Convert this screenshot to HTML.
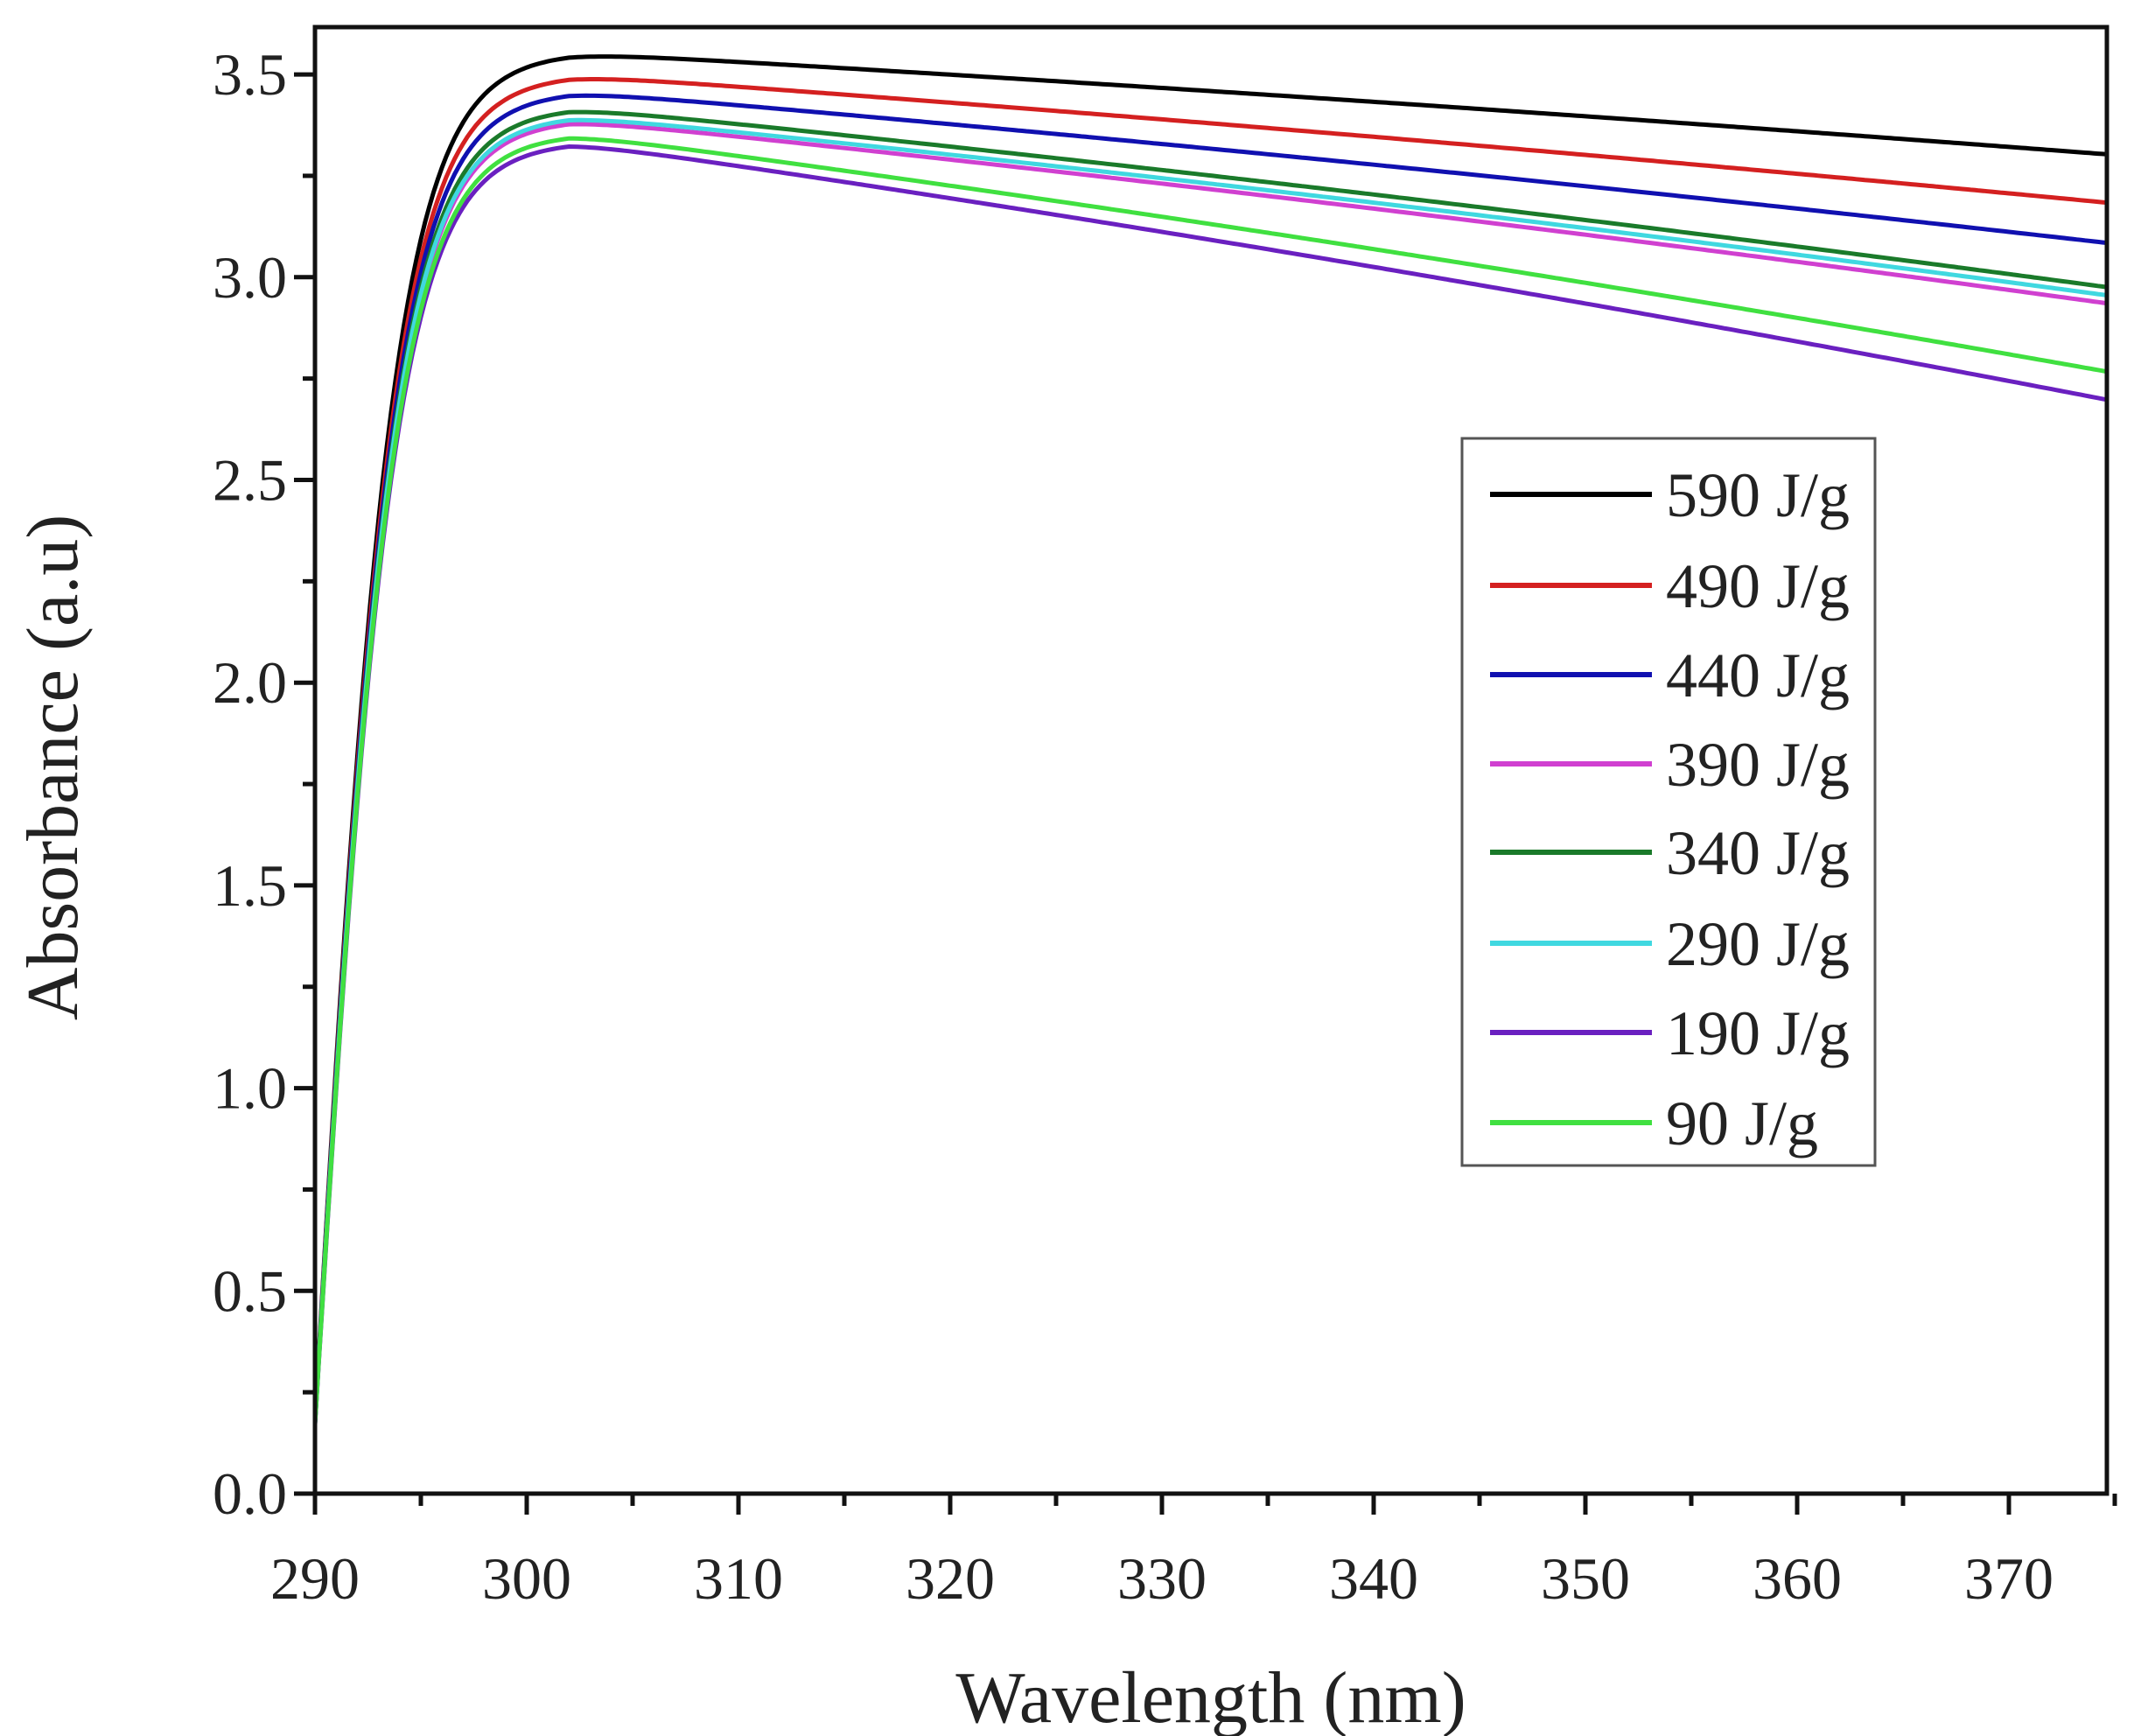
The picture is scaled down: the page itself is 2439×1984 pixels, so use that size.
<!DOCTYPE html>
<html><head><meta charset="utf-8"><style>
html,body{margin:0;padding:0;background:#fff;}
svg{display:block;}
text{font-family:"Liberation Serif",serif;fill:#222;}
</style></head><body>
<svg id="s" width="2439" height="1984" viewBox="0 0 2439 1984" xmlns="http://www.w3.org/2000/svg">
<defs><clipPath id="cp"><rect x="360" y="31" width="2048" height="1676"/></clipPath></defs>
<g id="curves" clip-path="url(#cp)"></g>
<rect x="360" y="31" width="2048" height="1676" fill="none" stroke="#111" stroke-width="5"/>
<g id="ticks" stroke="#111" stroke-width="5"></g>
<g id="labels" font-size="68"></g>
<text x="1384" y="1968" font-size="84" text-anchor="middle">Wavelength (nm)</text>
<text transform="translate(88,877) rotate(-90)" font-size="84" text-anchor="middle">Absorbance (a.u)</text>
<rect x="1671" y="501" width="472" height="831" fill="#fff" stroke="#555" stroke-width="3"/>
<g id="legend" font-size="72"></g>
</svg>
<script>
const X=v=>360+(v-290)*24.2, Y=v=>1707-v*463.4;
const series=[
["590 J/g","#000000",3.555,3.30],
["490 J/g","#d42020",3.50,3.18],
["440 J/g","#1010b0",3.46,3.08],
["390 J/g","#d040d0",3.39,2.93],
["340 J/g","#1a7a2a",3.42,2.97],
["290 J/g","#40d8e0",3.40,2.95],
["190 J/g","#6a20c0",3.335,2.69],
["90 J/g","#40e040",3.355,2.76]];
let cg=document.getElementById('curves'),h='';
series.forEach((s,i)=>{
 let d='';
 for(let x=290;x<=376;x+=0.2){
  let r=Math.tanh((x-289.8)/3.9);
  let t=Math.max(0,(x-302)/73.4);
  let L=s[2]+(s[3]-s[2])*(t*0.85+0.15*t*t);
  let y=L*r;
  d+=(d?'L':'M')+X(x).toFixed(1)+','+Y(y).toFixed(1);
 }
 h+=`<path d="${d}" fill="none" stroke="${s[1]}" stroke-width="5"/>`;
});
cg.innerHTML=h;
let tk='',lb='';
for(let v=290;v<=375;v+=5){let x=X(v),maj=v%10==0;tk+=`<line x1="${x}" y1="1707" x2="${x}" y2="${1707+(maj?24:14)}"/>`;if(maj)lb+=`<text x="${x}" y="1827" text-anchor="middle">${v}</text>`;}
for(let v=0;v<=3.5001;v+=0.25){let y=Y(v),maj=Math.abs(v*2-Math.round(v*2))<1e-6;tk+=`<line x1="360" y1="${y}" x2="${360-(maj?24:14)}" y2="${y}"/>`;if(maj)lb+=`<text x="328" y="${y+23}" text-anchor="end">${v.toFixed(1)}</text>`;}
document.getElementById('ticks').innerHTML=tk;document.getElementById('labels').innerHTML=lb;
let lg='';const ry=[565,669,771,873,974,1078,1180,1283];
series.forEach((s,i)=>{lg+=`<line x1="1703" y1="${ry[i]}" x2="1888" y2="${ry[i]}" stroke="${s[1]}" stroke-width="6"/><text x="1904" y="${ry[i]+25}">${s[0]}</text>`;});
document.getElementById('legend').innerHTML=lg;
</script>
</body></html>
